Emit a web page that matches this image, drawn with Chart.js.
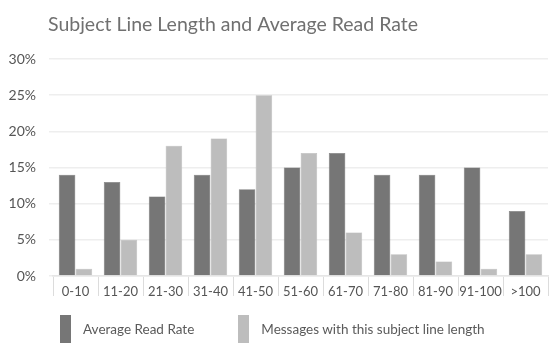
<!DOCTYPE html>
<html>
<head>
<meta charset="utf-8">
<script src="https://cdn.jsdelivr.net/npm/chart.js@4.4.1/dist/chart.umd.min.js"></script>
<style>
  html, body { margin: 0; padding: 0; background: #fff; }
  #wrap { width: 551px; height: 348px; position: relative; }
  #legend { position: absolute; left: 60px; top: 315px; height: 28px; display: flex; }
  #legend .item { display: flex; align-items: center; }
  #legend .swatch { width: 11px; height: 28px; margin-right: 12px; }
  #legend .text { font: 13.5px Lato, "DejaVu Sans", sans-serif; color: #5a5a5a; }
</style>
</head>
<body>
<div id="wrap">
  <canvas id="chart"></canvas>
  <div id="legend"></div>
</div>
<script>
// Subject line length buckets (characters)
const lengthBuckets = ['0-10', '11-20', '21-30', '31-40', '41-50', '51-60', '61-70', '71-80', '81-90', '91-100', '>100'];

// Average read rate per bucket, in percent
const readRate = [14, 13, 11, 14, 12, 15, 17, 14, 14, 15, 9];

// Share of messages that fall into each bucket, in percent
const messageShare = [1, 5, 18, 19, 25, 17, 6, 3, 2, 1, 3];

const yTicks = [0, 5, 10, 15, 20, 25, 30];

const chartTitle = 'Subject Line Length and Average Read Rate';
const fontFamily = 'Lato, "DejaVu Sans", sans-serif';

// title drawn by hand so it can sit just left of the plot area
const titlePlugin = {
    id: 'leftTitle',
    afterDraw(chart) {
        const c = chart.ctx;
        c.save();
        c.font = '19.5px ' + fontFamily;
        c.fillStyle = '#707070';
        c.textBaseline = 'alphabetic';
        c.fillText(chartTitle, 48, 31);
        c.restore();
    }
};

const ctx = document.getElementById('chart').getContext('2d');
const chart = new Chart(ctx, {
    type: 'bar',
    data: {
        labels: lengthBuckets,
        datasets: [{
            label: 'Average Read Rate',
            data: readRate,
            backgroundColor: '#767676',
            borderColor: '#6a6a6a',
            borderWidth: 0.5,
            categoryPercentage: 0.75,
            barPercentage: 0.98
        }, {
            label: 'Messages with this subject line length',
            data: messageShare,
            backgroundColor: '#bdbdbd',
            borderColor: '#b0b0b0',
            borderWidth: 0.5,
            categoryPercentage: 0.75,
            barPercentage: 0.98
        }]
    },
    options: {
        responsive: true,
        maintainAspectRatio: false,
        animation: false,
        layout: { padding: { top: 59, right: 3, left: 0, bottom: 0 } },
        plugins: {
            legend: { display: false },
            tooltip: { enabled: false }
        },
        scales: {
            x: {
                afterFit(axis) { axis.height = 72; },
                grid: {
                    offset: true,
                    drawOnChartArea: false,
                    color: '#dcdcdc',
                    tickLength: 20
                },
                border: { color: '#e6e6e6', width: 1.5 },
                ticks: {
                    color: '#555',
                    padding: -12,
                    maxRotation: 0,
                    minRotation: 0,
                    autoSkip: false,
                    font: { family: fontFamily, size: 13 }
                }
            },
            y: {
                min: 0,
                max: 30,
                afterFit(axis) { axis.width = 53; },
                afterBuildTicks(axis) {
                    axis.ticks = yTicks.map(v => ({ value: v }));
                },
                grid: { color: '#eeeeee', lineWidth: 1.5, tickLength: 4 },
                border: { display: false },
                ticks: {
                    color: '#555',
                    padding: 13,
                    callback: v => v + '%',
                    font: { family: fontFamily, size: 14 }
                }
            }
        }
    },
    plugins: [titlePlugin]
});

// legend built from the datasets so swatches match the bars
const legendEl = document.getElementById('legend');
const legendGaps = [44, 0];
chart.data.datasets.forEach((ds, i) => {
    const item = document.createElement('div');
    item.className = 'item';
    item.style.marginRight = legendGaps[i] + 'px';
    const sw = document.createElement('span');
    sw.className = 'swatch';
    sw.style.background = ds.backgroundColor;
    const tx = document.createElement('span');
    tx.className = 'text';
    tx.textContent = ds.label;
    item.appendChild(sw);
    item.appendChild(tx);
    legendEl.appendChild(item);
});
</script>
</body>
</html>
